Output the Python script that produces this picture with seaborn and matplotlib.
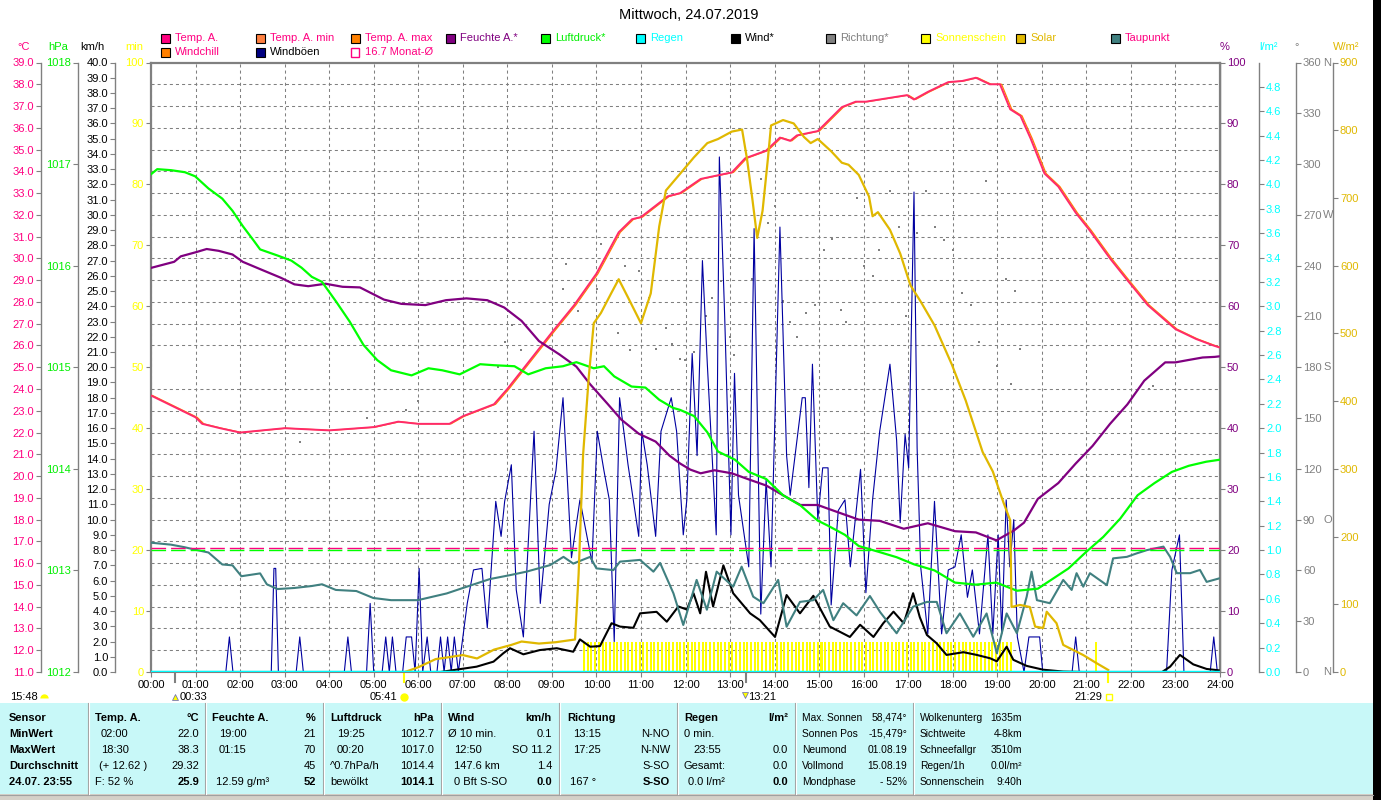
import numpy as np
import matplotlib
matplotlib.use("Agg")
import matplotlib.pyplot as plt
import matplotlib.transforms as mtrans
from matplotlib.patches import Rectangle
from matplotlib.lines import Line2D
import seaborn as sns

# ---------------------------------------------------------------- data
title = "Mittwoch, 24.07.2019"
hour_labels = [f"{h:02d}:00" for h in range(25)]

temp_t = [0.0, 0.4, 0.75, 1.0, 1.15, 1.55, 2.0, 3.0, 4.0, 5.0,
          5.55, 6.0, 6.7, 7.0, 7.7, 8.0, 8.5, 9.0, 9.5, 10.0,
          10.5, 10.8, 11.0, 11.6, 11.88, 12.34, 12.8, 13.04, 13.34, 13.81,
          14.12, 14.35, 14.5, 14.97, 15.51, 15.82, 16.05, 16.51, 16.97, 17.13,
          17.44, 17.9, 18.21, 18.52, 18.83, 19.06, 19.29, 19.52, 19.75, 20.06,
          20.37, 20.76, 21.07, 21.53, 21.92, 22.38, 23.0, 23.46, 23.85, 24.0]
temp_v = [23.7, 23.3, 22.95, 22.7, 22.4, 22.2, 22.0, 22.2, 22.1, 22.25,
          22.5, 22.4, 22.4, 22.75, 23.3, 24.0, 25.3, 26.6, 27.85, 29.3,
          31.2, 31.8, 31.9, 32.85, 33.0, 33.65, 33.85, 33.95, 34.6, 34.95,
          35.55, 35.4, 35.65, 35.85, 36.95, 37.2, 37.2, 37.35, 37.5, 37.3,
          37.65, 38.1, 38.15, 38.3, 38.0, 38.0, 36.85, 36.55, 35.5, 33.9,
          33.3, 32.1, 31.3, 30.0, 29.0, 27.85, 26.75, 26.3, 26.0, 25.9]

hum_t = [0.0, 0.52, 0.67, 1.02, 1.25, 1.52, 1.83, 2.06, 2.45, 2.91,
         3.22, 3.53, 3.92, 4.3, 4.69, 5.23, 5.62, 6.16, 6.62, 7.08,
         7.55, 7.93, 8.32, 8.71, 9.17, 9.55, 9.86, 10.25, 10.56, 10.95,
         11.33, 11.64, 11.88, 12.11, 12.34, 12.65, 13.04, 13.42, 13.81, 14.19,
         14.58, 14.97, 15.35, 15.89, 16.36, 16.9, 17.44, 18.05, 18.52, 18.98,
         19.37, 19.6, 19.91, 20.37, 20.76, 21.14, 21.53, 21.92, 22.3, 22.77,
         23.0, 23.3, 23.61, 23.88, 24.0]
hum_v = [66.3, 67.3, 68.2, 68.9, 69.4, 69.1, 68.5, 67.3, 66.1, 64.7,
         63.6, 63.3, 63.7, 63.2, 63.1, 61.1, 60.4, 60.2, 61.0, 61.3,
         61.0, 59.8, 57.6, 54.3, 52.1, 50.1, 47.2, 44.0, 41.4, 39.1,
         37.8, 35.5, 34.2, 33.2, 32.6, 33.1, 32.6, 31.6, 30.6, 29.0,
         27.4, 27.4, 26.4, 25.0, 24.8, 23.5, 24.4, 23.1, 22.9, 21.6,
         23.2, 24.5, 28.4, 31.0, 34.2, 37.1, 40.7, 43.9, 47.8, 50.8,
         50.8, 51.2, 51.6, 51.7, 51.8]

press_t = [0.0, 0.14, 0.45, 0.76, 0.99, 1.29, 1.6, 1.83, 2.06, 2.3,
           2.45, 2.84, 3.15, 3.38, 3.61, 3.84, 4.15, 4.46, 4.77, 5.08,
           5.39, 5.85, 6.23, 6.54, 6.93, 7.39, 7.7, 8.16, 8.47, 8.86,
           9.25, 9.55, 9.94, 10.17, 10.4, 10.79, 11.1, 11.41, 11.72, 11.88,
           12.19, 12.49, 12.73, 13.11, 13.42, 13.81, 14.19, 14.58, 14.97, 15.2,
           15.58, 15.89, 16.36, 16.74, 17.13, 17.59, 18.05, 18.52, 18.98, 19.44,
           19.91, 20.22, 20.6, 20.99, 21.38, 21.76, 22.15, 22.53, 22.92, 23.3,
           23.69, 24.0]
press_v = [1016.90, 1016.95, 1016.94, 1016.92, 1016.88, 1016.76, 1016.66, 1016.54, 1016.39, 1016.25,
           1016.16, 1016.10, 1016.05, 1015.98, 1015.89, 1015.84, 1015.65, 1015.45, 1015.22, 1015.07,
           1014.97, 1014.92, 1014.99, 1014.97, 1014.93, 1015.03, 1015.02, 1015.01, 1014.93, 1014.99,
           1015.01, 1015.05, 1014.99, 1015.01, 1014.91, 1014.81, 1014.80, 1014.68, 1014.60, 1014.58,
           1014.52, 1014.36, 1014.17, 1014.09, 1013.97, 1013.90, 1013.74, 1013.64, 1013.49, 1013.44,
           1013.35, 1013.24, 1013.18, 1013.13, 1013.06, 1013.00, 1012.88, 1012.86, 1012.88, 1012.80,
           1012.82, 1012.91, 1013.02, 1013.18, 1013.33, 1013.51, 1013.74, 1013.86, 1013.97, 1014.03,
           1014.07, 1014.09]

dew_t = [0.0, 0.45, 0.76, 0.99, 1.29, 1.6, 1.83, 2.03, 2.45, 2.6,
         2.84, 3.22, 3.61, 3.84, 4.15, 4.61, 4.99, 5.39, 5.99, 6.64,
         7.09, 7.61, 8.06, 8.43, 8.96, 9.26, 9.48, 9.86, 10.0, 10.38,
         10.53, 10.98, 11.28, 11.43, 11.73, 11.95, 12.25, 12.48, 12.7, 13.07,
         13.26, 13.52, 13.75, 14.08, 14.27, 14.57, 14.87, 15.09, 15.32, 15.54,
         15.84, 16.14, 16.37, 16.74, 17.11, 17.42, 17.64, 17.86, 18.16, 18.46,
         18.76, 18.99, 19.21, 19.44, 19.66, 19.77, 19.89, 20.18, 20.48, 20.67,
         20.78, 20.93, 21.08, 21.46, 21.6, 21.91, 22.13, 22.36, 22.73, 22.88,
         23.03, 23.33, 23.55, 23.7, 24.0]
dew_v = [16.94, 16.85, 16.73, 16.62, 16.49, 15.94, 15.9, 15.4, 15.53, 15.03,
         14.81, 14.86, 14.95, 15.03, 14.77, 14.72, 14.4, 14.3, 14.3, 14.61,
         14.92, 15.27, 15.45, 15.61, 15.91, 16.29, 15.98, 16.29, 15.76, 15.68,
         16.07, 16.15, 15.61, 16.01, 14.61, 13.16, 15.23, 13.86, 15.61, 14.92,
         15.84, 14.46, 14.16, 15.23, 13.08, 14.22, 14.3, 14.77, 13.38, 14.16,
         13.6, 14.49, 13.75, 12.78, 14.0, 14.22, 14.22, 12.78, 13.69, 12.62,
         13.69, 11.86, 13.69, 12.78, 14.46, 15.61, 14.3, 14.16, 15.23, 14.77,
         15.54, 14.92, 15.54, 14.99, 16.22, 16.29, 16.45, 16.6, 16.76, 16.29,
         15.54, 15.54, 15.69, 15.14, 15.31]

wind_t = [0.0, 6.5, 7.31, 7.69, 7.91, 8.06, 8.36, 8.73, 9.11, 9.48,
          9.63, 9.86, 10.08, 10.34, 10.53, 10.83, 10.98, 11.35, 11.58, 11.84,
          12.03, 12.18, 12.33, 12.46, 12.62, 12.85, 13.07, 13.45, 13.67, 14.01,
          14.27, 14.57, 14.87, 15.24, 15.69, 15.92, 16.22, 16.44, 16.67, 16.9,
          17.11, 17.26, 17.42, 17.64, 17.86, 18.24, 18.54, 18.84, 18.99, 19.21,
          19.36, 19.66, 20.03, 20.48, 20.93, 22.7, 22.88, 23.1, 23.4, 23.7,
          24.0]
wind_v = [0.0, 0.0, 0.35, 0.68, 1.23, 1.56, 1.16, 1.44, 1.56, 1.33,
          2.14, 1.66, 1.7, 3.2, 2.98, 2.9, 3.85, 3.95, 3.3, 4.3,
          4.1, 5.17, 3.85, 6.58, 4.3, 7.0, 5.17, 3.85, 3.4, 2.3,
          5.05, 3.85, 5.0, 2.98, 2.3, 3.1, 2.3, 3.2, 3.96, 3.2,
          5.17, 3.6, 2.43, 1.88, 1.12, 1.3, 1.12, 0.9, 0.7, 1.66,
          0.8, 0.4, 0.15, 0.03, 0.0, 0.0, 0.35, 1.12, 0.5, 0.2,
          0.1]

gust_t = [0.0, 1.68, 1.76, 1.84, 2.70, 2.76, 2.80, 2.86, 3.26, 3.34,
          3.42, 4.34, 4.42, 4.50, 4.84, 4.92, 5.00, 5.19, 5.27, 5.35,
          5.42, 5.50, 5.65, 5.73, 5.85, 5.93, 6.02, 6.10, 6.20, 6.28,
          6.42, 6.50, 6.58, 6.66, 6.74, 6.81, 6.90, 7.10, 7.24, 7.43,
          7.55, 7.74, 7.86, 7.94, 8.09, 8.20, 8.36, 8.47, 8.60, 8.74,
          8.94, 9.09, 9.25, 9.44, 9.63, 9.90, 10.02, 10.17, 10.29, 10.40,
          10.52, 10.71, 10.95, 11.02, 11.14, 11.33, 11.45, 11.68, 11.80, 11.95,
          12.03, 12.15, 12.26, 12.38, 12.49, 12.69, 12.76, 12.88, 13.02, 13.10,
          13.19, 13.42, 13.54, 13.69, 13.81, 13.92, 14.12, 14.27, 14.35, 14.62,
          14.69, 14.77, 14.85, 14.97, 15.08, 15.20, 15.27, 15.43, 15.58, 15.70,
          15.93, 16.05, 16.20, 16.36, 16.59, 16.74, 16.82, 16.93, 17.01, 17.13,
          17.20, 17.28, 17.44, 17.59, 17.75, 17.90, 18.05, 18.19, 18.33, 18.44,
          18.60, 18.79, 18.90, 19.02, 19.10, 19.20, 19.28, 19.37, 19.45, 19.60,
          19.71, 19.95, 20.02, 20.68, 20.76, 20.84, 22.80, 22.92, 23.09, 23.19,
          23.78, 23.86, 23.94, 24.0]
gust_v = [0, 0, 2.3, 0, 0, 6.8, 6.8, 0, 0, 2.3,
          0, 0, 2.3, 0, 0, 4.5, 0, 0, 2.3, 0,
          2.3, 0, 0, 2.3, 2.3, 0, 6.8, 0, 2.3, 0,
          0, 2.3, 0, 2.3, 0, 2.3, 0, 4.5, 6.7, 6.8,
          2.9, 11.2, 8.9, 11.2, 13.6, 5.4, 2.3, 8.5, 15.8, 4.5,
          11.0, 13.2, 18.0, 7.5, 11.3, 7.2, 15.8, 13.2, 11.3, 2.0,
          18.0, 13.6, 8.9, 15.8, 13.6, 8.9, 15.8, 18.0, 15.8, 9.0,
          11.3, 20.9, 14.2, 27.0, 20.2, 9.0, 33.8, 23.3, 9.0, 19.6,
          11.6, 6.9, 29.1, 3.8, 12.6, 6.9, 29.2, 14.2, 11.6, 18.0,
          18.0, 12.1, 20.2, 10.0, 13.4, 13.4, 4.4, 10.6, 11.3, 6.9,
          13.3, 5.2, 11.3, 15.8, 20.2, 15.2, 9.8, 15.6, 13.4, 31.5,
          14.7, 6.9, 2.5, 11.2, 2.5, 6.7, 6.9, 9.0, 4.9, 6.7,
          2.5, 9.0, 2.5, 9.0, 2.5, 11.3, 6.9, 10.0, 2.3, 0,
          2.3, 2.3, 0, 0, 2.3, 0, 0, 6.7, 9.0, 0,
          0, 2.3, 0, 0]

solar_t = [5.7, 6.0, 6.39, 6.7, 7.0, 7.32, 7.7, 8.09, 8.32,
           8.71, 9.09, 9.52, 9.6, 9.7, 9.83, 9.94, 10.1, 10.33, 10.5,
           10.71, 11.0, 11.22, 11.41, 11.56, 11.87, 12.19, 12.49, 12.73, 13.04,
           13.27, 13.38, 13.5, 13.61, 13.73, 13.85, 13.92, 14.19, 14.43, 14.66,
           14.81, 14.97, 15.27, 15.51, 15.66, 15.89, 16.12, 16.2, 16.32, 16.59,
           16.82, 17.05, 17.28, 17.59, 17.98, 18.29, 18.67, 18.9, 19.14, 19.29,
           19.32, 19.51, 19.73, 19.85, 20.03, 20.11, 20.33, 20.48, 20.93, 21.23,
           21.49]
solar_v = [0, 7, 19, 22, 25, 20, 33, 40, 45,
           42, 44, 48, 144, 320, 437, 515, 530, 559, 580,
           553, 515, 559, 658, 711, 735, 760, 781, 787, 798,
           801, 758, 699, 641, 681, 758, 807, 815, 810, 790,
           781, 787, 769, 752, 749, 734, 702, 673, 679, 653,
           618, 571, 547, 512, 454, 401, 325, 296, 250, 224,
           96, 99, 96, 67, 65, 89, 72, 40, 25, 13,
           3]

dir_t = [3.34, 4.85, 5.73, 6.0, 7.8, 7.95, 8.1, 8.3, 9.25, 9.32,
         9.59, 10.02, 10.1, 10.48, 10.64, 10.75, 10.95, 11.18, 11.33, 11.56,
         11.7, 11.87, 12.0, 12.2, 12.45, 12.6, 12.8, 13.0, 13.1, 13.5,
         13.7, 13.85, 14.0, 14.2, 14.35, 14.5, 14.7, 14.9, 15.1, 15.3,
         15.5, 15.6, 15.85, 16.0, 16.2, 16.35, 16.6, 16.8, 16.95, 17.2,
         17.4, 17.6, 17.8, 18.0, 18.2, 18.4, 18.6, 18.75, 19.0, 19.3,
         19.5, 22.4, 22.5, 19.2, 19.4]
dir_v = [136, 150, 155, 160, 180, 195, 205, 190, 226, 241,
         213, 226, 253, 200, 240, 190, 237, 221, 191, 203,
         194, 185, 184, 189, 210, 221, 231, 198, 187, 232,
         291, 265, 275, 219, 207, 198, 212, 217, 249, 256,
         214, 207, 280, 240, 234, 249, 284, 263, 210, 259,
         284, 263, 255, 249, 224, 217, 195, 290, 181, 170,
         191, 167, 169, 232, 225]

rain_t = [0.0, 24.0]
rain_v = [0.0, 0.0]

sun_periods = [(9.72, 19.32), (21.22, 21.30)]   # sunshine (min per 5-min slot)
sun_slot_min = 5
temp_month_avg = 16.7
press_month_avg = 1013.2

moonrise, moonset = "00:33", "13:21"
sunrise, sunset = "05:41", "21:29"
day_length = "15:48"

tbl_sensor = ["Sensor", "MinWert", "MaxWert", "Durchschnitt", "24.07. 23:55"]
tbl_cols = [
    (["Temp. A.", "02:00", "18:30", "(+ 12.62 )", "F: 52 %"], ["°C", "22.0", "38.3", "29.32", "25.9"]),
    (["Feuchte A.", "19:00", "01:15", "", "12.59 g/m³"], ["%", "21", "70", "45", "52"]),
    (["Luftdruck", "19:25", "00:20", "^0.7hPa/h", "bewölkt"], ["hPa", "1012.7", "1017.0", "1014.4", "1014.1"]),
    (["Wind", "Ø 10 min.", "12:50", "147.6 km", "0 Bft S-SO"], ["km/h", "0.1", "SO 11.2", "1.4", "0.0"]),
    (["Richtung", "13:15", "17:25", "", "167 °"], ["", "N-NO", "N-NW", "S-SO", "S-SO"]),
    (["Regen", "0 min.", "23:55", "Gesamt:", "0.0 l/m²"], ["l/m²", "", "0.0", "0.0", "0.0"]),
]
tbl_astro = [("Max. Sonnen", "58,474°"), ("Sonnen Pos", "-15,479°"), ("Neumond", "01.08.19"),
             ("Vollmond", "15.08.19"), ("Mondphase", "- 52%")]
tbl_misc = [("Wolkenunterg", "1635m"), ("Sichtweite", "4-8km"), ("Schneefallgr", "3510m"),
            ("Regen/1h", "0.0l/m²"), ("Sonnenschein", "9:40h")]

# ---------------------------------------------------------------- style
plt.rcParams['font.family'] = ['Liberation Sans', 'DejaVu Sans']
plt.rcParams['lines.scale_dashes'] = False
plt.rcParams['axes.unicode_minus'] = False

C_TEMP = '#ff2a6a'
C_PINK = '#ff0080'
C_ORANGE = '#ff8000'
C_CORAL = '#ff8040'
C_HUM = '#800080'
C_PRESS = '#00ff00'
C_RAIN = '#00ffff'
C_WIND = '#000000'
C_GUST = '#0000a0'
C_DIR = '#808080'
C_SUN = '#ffff00'
C_SOLAR = '#e0b800'
C_DEW = '#408080'
GRAY = '#808080'
FS = 8

W, H = 1381, 800
fig = plt.figure(figsize=(W / 100, H / 100), dpi=100, facecolor='white')


def fx(x):
    return x / W


def fy(y):
    return 1 - y / H


def hrs(s):
    h, m = s.split(':')
    return int(h) + int(m) / 60


PL, PR, PT, PB = 151, 1220, 62.5, 672
ax = fig.add_axes([fx(PL), fy(PB), fx(PR) - fx(PL), fy(PT) - fy(PB)])
ax.set_facecolor('white')
ax.set_xlim(0, 24)
ax.set_ylim(0, 100)
ax.set_xticks(range(25))
ax.set_xticklabels(hour_labels)
ax.set_yticks(range(0, 101, 10))
temp_ticks = list(range(11, 40))
ax.set_yticks([(t - 11) / 28 * 100 for t in temp_ticks], minor=True)
ax.tick_params(axis='y', which='minor', length=0)
ax.tick_params(axis='y', which='major', color=GRAY, labelcolor=C_SUN, length=3.5,
               width=0.8, pad=1.5, labelsize=FS)
ax.tick_params(axis='x', color=GRAY, labelcolor='black', length=3.5, width=0.8,
               pad=2, labelsize=FS)
ax.set_axisbelow(True)
grid_ls = (0, (2.2, 2.2))
ax.grid(which='major', axis='x', color=GRAY, linestyle=grid_ls, linewidth=0.75)
ax.grid(which='minor', axis='y', color=GRAY, linestyle=grid_ls, linewidth=0.75)
for s in ['left', 'right', 'top']:
    ax.spines[s].set_color(GRAY)
    ax.spines[s].set_linewidth(1.6)
ax.spines['bottom'].set_color(GRAY)
ax.spines['bottom'].set_linewidth(0.8)

# sunshine bars (5 min slots)
sun_x = np.concatenate([np.arange(a, b, 1 / 12) for a, b in sun_periods])
ax.bar(sun_x, [sun_slot_min] * len(sun_x), width=0.045, color=C_SUN, linewidth=0, zorder=1)


def make_twin(side, pos, ylim, ticks, labels, color):
    a = ax.twinx()
    a.set_ylim(*ylim)
    for s in a.spines.values():
        s.set_visible(False)
    sp = a.spines[side]
    sp.set_visible(True)
    sp.set_position(('axes', pos))
    sp.set_color(GRAY)
    sp.set_linewidth(1.0)
    if side == 'left':
        a.yaxis.set_ticks_position('left')
        a.yaxis.set_label_position('left')
    else:
        a.yaxis.set_ticks_position('right')
    a.set_yticks(ticks)
    a.set_yticklabels(labels)
    a.tick_params(axis='y', color=GRAY, labelcolor=color, length=3.5, width=0.8,
                  pad=1.5, labelsize=FS)
    return a


def pos_of(xpx):
    return (xpx - PL) / (PR - PL)


dir_ticks = list(range(0, 361, 30))
ax_d = make_twin('right', pos_of(1296), (0, 360), dir_ticks, [str(v) for v in dir_ticks], GRAY)
w_ticks = list(range(0, 41))
ax_w = make_twin('left', pos_of(115), (0, 40), w_ticks, [f"{v:.1f}" for v in w_ticks], 'black')
ax_t = make_twin('left', pos_of(41), (11, 39), temp_ticks, [f"{v:.1f}" for v in temp_ticks], C_PINK)
h_ticks = list(range(0, 101, 10))
ax_h = make_twin('right', 1.0, (0, 100), h_ticks, [str(v) for v in h_ticks], C_HUM)
p_ticks = list(range(1012, 1019))
ax_p = make_twin('left', pos_of(78), (1012, 1018), p_ticks, [str(v) for v in p_ticks], '#00ee00')
s_ticks = list(range(0, 901, 100))
ax_s = make_twin('right', pos_of(1333), (0, 900), s_ticks, [str(v) for v in s_ticks], C_SOLAR)
r_ticks = [round(0.2 * i, 1) for i in range(25)]
ax_r = make_twin('right', pos_of(1259), (0, 5), r_ticks, [f"{v:.1f}" for v in r_ticks], C_RAIN)

# direction letters
btr = mtrans.blended_transform_factory(fig.transFigure, ax_d.transData)
for val, let in [(360, 'N'), (270, 'W'), (180, 'S'), (90, 'O'), (0, 'N')]:
    ax_d.text(fx(1323), val, let, transform=btr, ha='left', va='center', color=GRAY,
              fontsize=FS, clip_on=False)

line_kw = dict(estimator=None, sort=False, legend=False)
sns.scatterplot(x=dir_t, y=dir_v, ax=ax_d, color=C_DIR, marker='s', s=3, linewidth=0, legend=False)
sns.lineplot(x=gust_t, y=gust_v, ax=ax_w, color=C_GUST, linewidth=0.8, **line_kw)
sns.lineplot(x=wind_t, y=wind_v, ax=ax_w, color=C_WIND, linewidth=1.5, **line_kw)
sns.lineplot(x=dew_t, y=dew_v, ax=ax_t, color=C_DEW, linewidth=1.5, **line_kw)
ax_t.axhline(temp_month_avg, color=C_PINK, linewidth=1.0, linestyle=(0, (10.5, 3.6)))
# windchill / min-max companion drawn 1.5 px to the right of the temperature trace
wc = sns.lineplot(x=temp_t, y=temp_v, ax=ax_t, color=C_ORANGE, linewidth=0.9, **line_kw)
wc.lines[-1].set_transform(mtrans.offset_copy(ax_t.transData, fig=fig, x=1.6, y=0, units='dots'))
sns.lineplot(x=temp_t, y=temp_v, ax=ax_t, color=C_TEMP, linewidth=1.4, **line_kw)
sns.lineplot(x=hum_t, y=hum_v, ax=ax_h, color=C_HUM, linewidth=1.6, **line_kw)
ax_p.axhline(press_month_avg, color=C_PRESS, linewidth=1.0, linestyle=(0, (10.5, 3.6)))
sns.lineplot(x=press_t, y=press_v, ax=ax_p, color=C_PRESS, linewidth=1.6, **line_kw)
sns.lineplot(x=solar_t, y=solar_v, ax=ax_s, color=C_SOLAR, linewidth=1.6, **line_kw)
sns.lineplot(x=rain_t, y=rain_v, ax=ax_r, color=C_RAIN, linewidth=2.5, **line_kw)

for a, lim in [(ax_d, (0, 360)), (ax_w, (0, 40)), (ax_t, (11, 39)), (ax_h, (0, 100)),
               (ax_p, (1012, 1018)), (ax_s, (0, 900)), (ax_r, (0, 5))]:
    a.set_ylim(*lim)
    a.set_xlabel('')
    a.set_ylabel('')
ax.set_xlim(0, 24)
ax.set_xlabel('')
ax.set_ylabel('')

# moon / sun event ticks under the x axis
bt = mtrans.blended_transform_factory(ax.transData, ax.transAxes)
for s_, c_ in [(moonrise, GRAY), (moonset, GRAY), (sunrise, C_SUN), (sunset, C_SUN)]:
    ax.plot([hrs(s_)] * 2, [0, -0.016], transform=bt, clip_on=False, color=c_, linewidth=1.5)


def xpx(t):
    return PL + t * (PR - PL) / 24


ya = 697
fig.text(fx(10), fy(ya), day_length, ha='left', va='center', fontsize=FS)
fig.add_artist(Line2D([fx(44)], [fy(ya + 1)], marker='o', markersize=6, fillstyle='top',
                      markerfacecolor=C_SUN, markerfacecoloralt='none', markeredgecolor='none',
                      transform=fig.transFigure))
x_mr = xpx(hrs(moonrise))
fig.add_artist(Line2D([fx(x_mr)], [fy(ya)], marker='^', markersize=5, color=C_SUN,
                      markeredgecolor='#6060c0', markeredgewidth=0.5, transform=fig.transFigure))
fig.text(fx(x_mr + 4), fy(ya), moonrise, ha='left', va='center', fontsize=FS)
x_sr = xpx(hrs(sunrise))
fig.text(fx(x_sr - 7), fy(ya), sunrise, ha='right', va='center', fontsize=FS)
fig.add_artist(Line2D([fx(x_sr)], [fy(ya)], marker='o', markersize=5, color=C_SUN,
                      transform=fig.transFigure))
x_ms = xpx(hrs(moonset))
fig.add_artist(Line2D([fx(x_ms - 1)], [fy(ya - 2)], marker='v', markersize=5, color=C_SUN,
                      markeredgecolor='#6060c0', markeredgewidth=0.5, transform=fig.transFigure))
fig.text(fx(x_ms + 2), fy(ya), moonset, ha='left', va='center', fontsize=FS)
x_ss = xpx(hrs(sunset))
fig.text(fx(x_ss - 6), fy(ya), sunset, ha='right', va='center', fontsize=FS)
fig.add_artist(Line2D([fx(x_ss + 1)], [fy(ya)], marker='s', markersize=4, markerfacecolor='none',
                      markeredgecolor=C_SUN, markeredgewidth=1, transform=fig.transFigure))

# ---------------------------------------------------------------- header
fig.text(fx(689), fy(15), title, ha='center', va='center', fontsize=10.5)
for txt, xc, col in [("°C", 24, C_PINK), ("hPa", 58, '#00ee00'), ("km/h", 92, 'black'),
                     ("min", 134, C_SUN), ("%", 1225, C_HUM), ("l/m²", 1268, C_RAIN),
                     ("°", 1297, GRAY), ("W/m²", 1346, C_SOLAR)]:
    fig.text(fx(xc), fy(47), txt, ha='center', va='center', fontsize=FS, color=col)

legend_row1 = [("Temp. A.", C_PINK, C_PINK), ("Temp. A. min", C_CORAL, C_PINK),
               ("Temp. A. max", C_ORANGE, C_PINK), ("Feuchte A.*", C_HUM, C_HUM),
               ("Luftdruck*", C_PRESS, '#00ee00'), ("Regen", C_RAIN, C_RAIN),
               ("Wind*", C_WIND, 'black'), ("Richtung*", C_DIR, C_DIR),
               ("Sonnenschein", C_SUN, C_SUN), ("Solar", C_SOLAR, C_SOLAR),
               ("Taupunkt", C_DEW, C_PINK)]
legend_row2 = [("Windchill", C_ORANGE, C_PINK), ("Windböen", '#000080', 'black'),
               (f"{temp_month_avg} Monat-Ø", None, C_PINK)]
for row, yc in [(legend_row1, 38), (legend_row2, 52)]:
    for i, (lab, box, tcol) in enumerate(row):
        x0 = 161 + i * 95
        if box is None:
            r = Rectangle((fx(x0), fy(yc + 4.5)), 8 / W, 9 / H, transform=fig.transFigure,
                          facecolor='none', edgecolor=C_PINK, linewidth=1)
        else:
            r = Rectangle((fx(x0), fy(yc + 4.5)), 9 / W, 9 / H, transform=fig.transFigure,
                          facecolor=box, edgecolor='black', linewidth=0.8)
        fig.add_artist(r)
        fig.text(fx(x0 + 14), fy(yc), lab, ha='left', va='center', fontsize=FS, color=tcol)

# ---------------------------------------------------------------- table
fig.add_artist(Rectangle((0, fy(794)), fx(1373), (794 - 703) / H, transform=fig.transFigure,
                         facecolor='#c8f8f8', edgecolor='none'))
fig.add_artist(Rectangle((0, 0), fx(1373), 6 / H, transform=fig.transFigure,
                         facecolor='#d4d0c8', edgecolor='none'))
fig.add_artist(Line2D([0, fx(1373)], [fy(794.5)] * 2, color='#a0a0a0', linewidth=0.8,
                      transform=fig.transFigure))
for xs in [88, 205, 323, 441, 559, 677, 795, 913]:
    fig.add_artist(Line2D([fx(xs)] * 2, [fy(703), fy(794)], color='#a0a0a0', linewidth=0.8,
                          transform=fig.transFigure))
    fig.add_artist(Line2D([fx(xs + 1)] * 2, [fy(703), fy(794)], color='white', linewidth=0.8,
                          transform=fig.transFigure))
fig.add_artist(Rectangle((fx(1373), 0), fx(W) - fx(1373), 1, transform=fig.transFigure,
                         facecolor='black', edgecolor='none'))

rows_y = [718, 734, 750, 766, 782]
for i, s_ in enumerate(tbl_sensor):
    fig.text(fx(9), fy(rows_y[i]), s_, ha='left', va='center', fontsize=FS, fontweight='bold')
col_left = [[95, 101, 101, 99, 95], [212, 219, 219, 212, 216], [330, 337, 337, 330, 330],
            [448, 448, 454, 454, 454], [567, 573, 573, 567, 570], [684, 684, 693, 684, 688]]
col_right = [199, 316, 434, 552, 670, 788]
for c, (lefts, rights) in enumerate(tbl_cols):
    for i in range(5):
        fig.text(fx(col_left[c][i]), fy(rows_y[i]), lefts[i], ha='left', va='center',
                 fontsize=FS, fontweight='bold' if i == 0 else 'normal')
        fig.text(fx(col_right[c]), fy(rows_y[i]), rights[i], ha='right', va='center',
                 fontsize=FS, fontweight='bold' if i in (0, 4) else 'normal')
FS2 = 7.4
for i, (l_, r_) in enumerate(tbl_astro):
    fig.text(fx(802), fy(rows_y[i]), l_, ha='left', va='center', fontsize=FS2)
    fig.text(fx(907), fy(rows_y[i]), r_, ha='right', va='center', fontsize=FS2)
for i, (l_, r_) in enumerate(tbl_misc):
    fig.text(fx(920), fy(rows_y[i]), l_, ha='left', va='center', fontsize=FS2)
    fig.text(fx(1022), fy(rows_y[i]), r_, ha='right', va='center', fontsize=FS2)

fig.savefig('out.png', dpi=100, facecolor='white')
